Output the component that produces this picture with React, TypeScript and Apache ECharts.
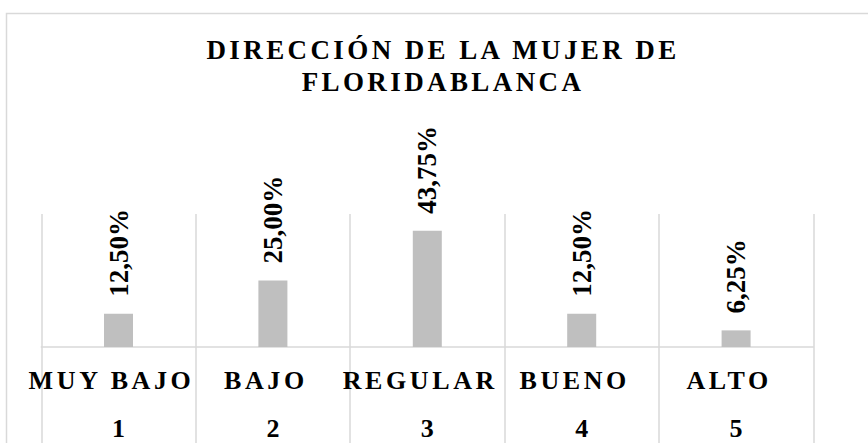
import { useEffect, useRef } from 'react';
import * as echarts from 'echarts';

const titleLines = ['DIRECCIÓN DE LA MUJER DE', 'FLORIDABLANCA'];
const categories = ['MUY BAJO', 'BAJO', 'REGULAR', 'BUENO', 'ALTO'];
const levels = ['1', '2', '3', '4', '5'];
const percentages = [12.5, 25.0, 43.75, 12.5, 6.25];
const valueMax = 50;

export default function App() {
  const ref = useRef<HTMLDivElement>(null);

  useEffect(() => {
    const el = ref.current!;
    const chart = echarts.init(el, undefined, { renderer: 'svg' });
    const font = 'Liberation Serif';
    const gridColor = '#d9d9d9';

    const labelText = (v: number) => v.toFixed(2).replace('.', ',') + '%';

    chart.setOption({
      animation: false,
      title: {
        text: titleLines.join('\n'),
        left: 443,
        top: 34,
        padding: 0,
        textAlign: 'center',
        textStyle: {
          fontFamily: font,
          fontWeight: 'bold',
          fontSize: 27,
          lineHeight: 32,
          color: '#000',
        },
      },
      grid: { left: 41.3, right: 54.7, top: 214, bottom: 96, containLabel: false },
      xAxis: [
        {
          type: 'category',
          data: categories,
          boundaryGap: true,
          axisLine: { show: true, lineStyle: { color: gridColor, width: 1.5 } },
          axisTick: { show: true, length: 100, alignWithLabel: false, lineStyle: { color: gridColor, width: 1.5 } },
          splitLine: { show: true, lineStyle: { color: gridColor, width: 1.5 } },
          axisLabel: {
            interval: 0,
            margin: 20,
            fontFamily: font,
            fontWeight: 'bold',
            fontSize: 26,
            lineHeight: 26,
            color: '#000',
            padding: [0, 14, 0, 0],
          },
        },
        {
          type: 'category',
          data: levels,
          position: 'bottom',
          gridIndex: 0,
          axisLine: { show: false },
          axisTick: { show: false },
          splitLine: { show: false },
          axisLabel: {
            interval: 0,
            margin: 68,
            fontFamily: font,
            fontWeight: 'bold',
            fontSize: 26,
            lineHeight: 26,
            color: '#000',
          },
        },
      ],
      yAxis: { type: 'value', min: 0, max: valueMax, show: false, splitLine: { show: false } },
      series: [
        {
          type: 'bar',
          xAxisIndex: 0,
          barWidth: 29,
          itemStyle: { color: '#bfbfbf' },
          label: {
            show: true,
            position: 'top',
            distance: 17,
            rotate: 90,
            align: 'left',
            verticalAlign: 'middle',
            fontFamily: font,
            fontWeight: 'bold',
            fontSize: 27,
            color: '#000',
            formatter: (p: any) => labelText(p.value),
          },
          data: percentages,
        },
      ],
      graphic: [
        {
          type: 'rect',
          silent: true,
          z: -10,
          shape: { x: 6.5, y: 13.5, width: 1000, height: 1000 },
          style: { fill: 'none', stroke: gridColor, lineWidth: 1.5 },
        },
      ],
    });

    const applySpacing = () => {
      el.querySelectorAll('text').forEach((t) => {
        const s = (t.textContent || '').trim();
        if (titleLines.includes(s)) t.setAttribute('letter-spacing', '3.4');
        else if (categories.includes(s)) t.setAttribute('letter-spacing', '3.6');
      });
    };
    applySpacing();
    chart.on('rendered', applySpacing);
    const timer = setTimeout(applySpacing, 50);

    return () => {
      clearTimeout(timer);
      chart.dispose();
    };
  }, []);

  return (
    <div
      ref={ref}
      style={{ position: 'absolute', left: 0, top: 0, width: 868, height: 443 }}
    />
  );
}
